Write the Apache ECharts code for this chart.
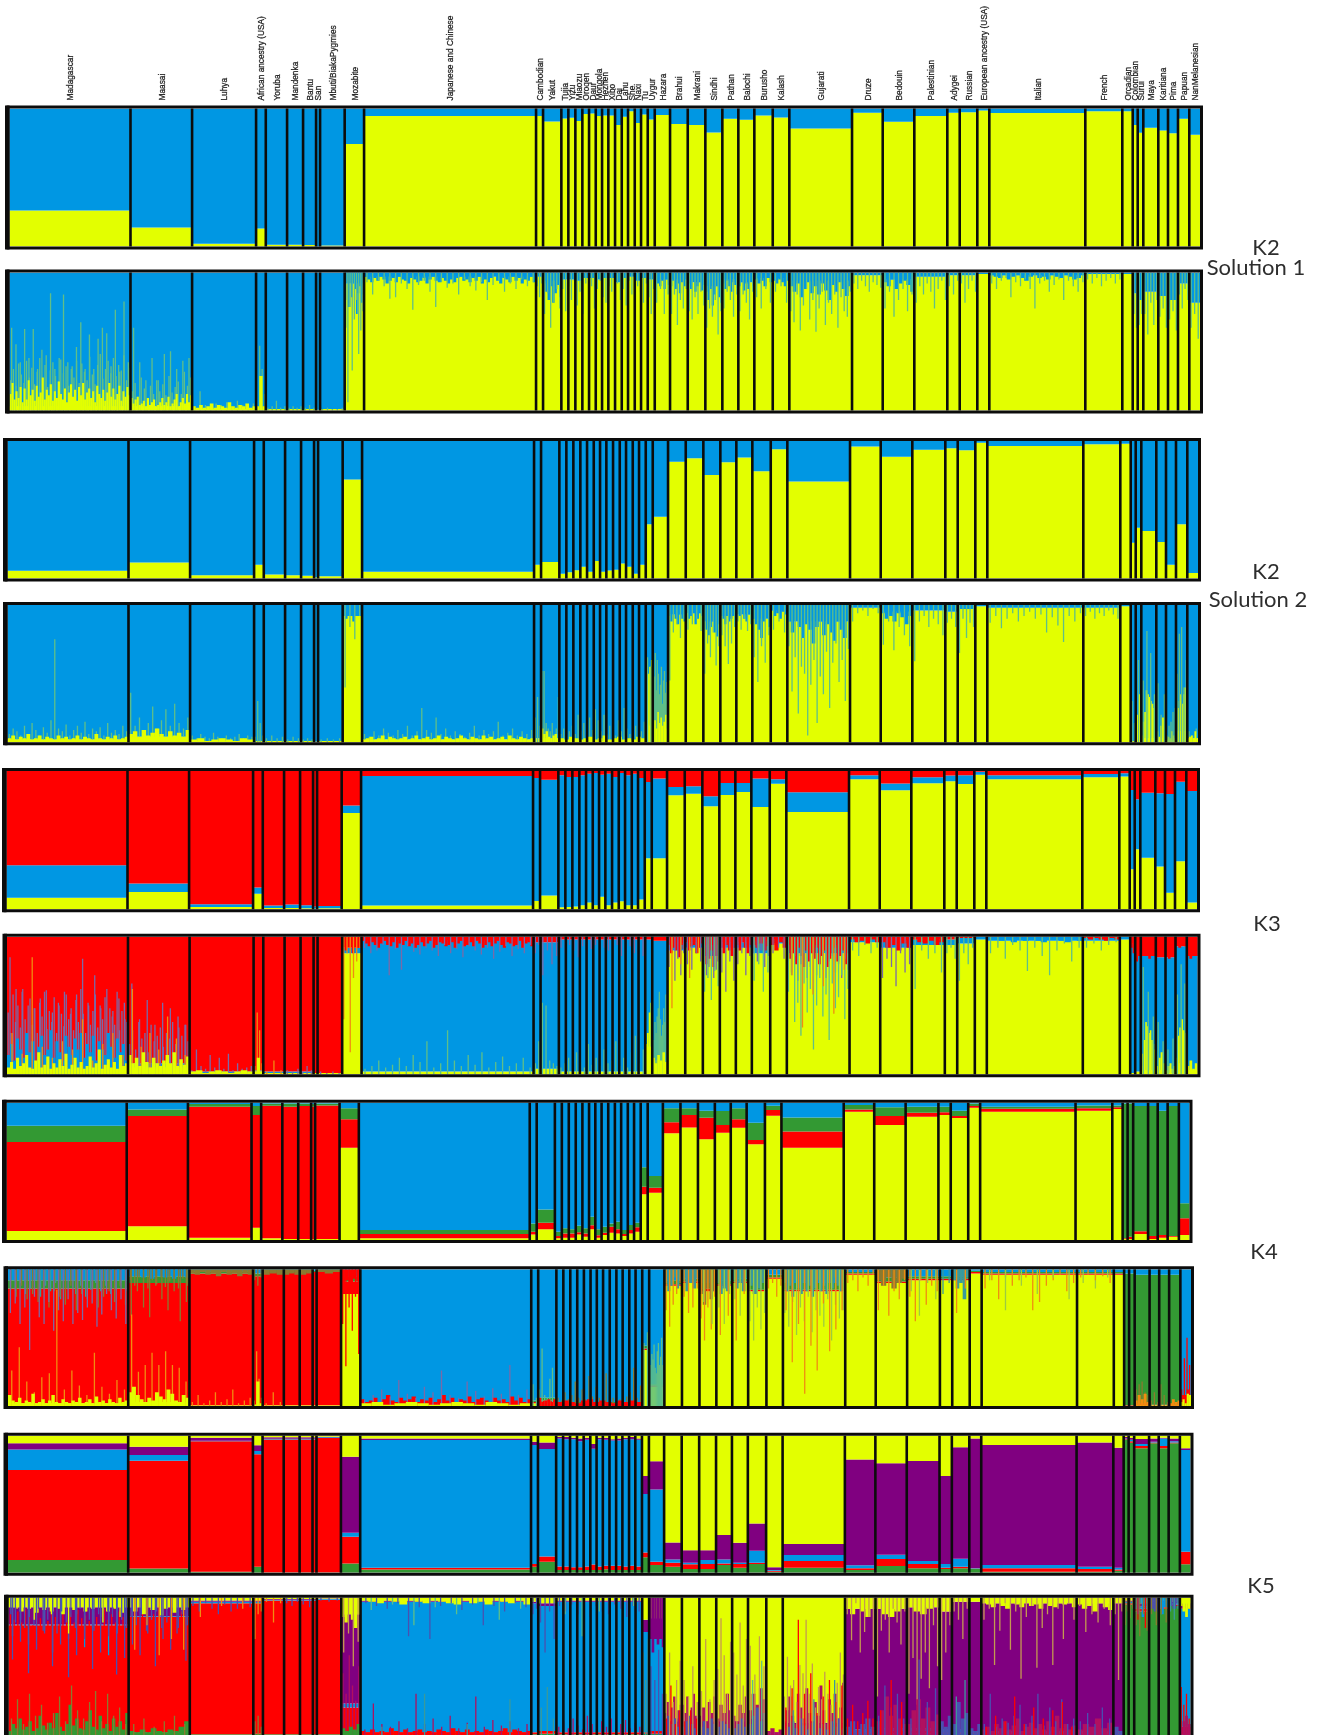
<!DOCTYPE html>
<html><head><meta charset="utf-8">
<style>html,body{margin:0;padding:0;background:#fff}#c{width:1327px;height:1735px}</style>
<script src="https://cdn.jsdelivr.net/npm/echarts@6/dist/echarts.min.js"></script>
</head><body><div id="c"></div>
<script>
const populations=['Madagascar','Maasai','Luhya','African ancestry (USA)','Yoruba','Mandenka','Bantu','San','Mbuti/BiakaPygmies','Mozabite','Japanese and Chinese','Cambodian','Yakut','Tujia','Yizu','Miaozu','Oroqen','Daur','Mongola','Hezhen','Xibo','Dai','Lahu','She','Naxi','Tu','Uygur','Hazara','Brahui','Makrani','Sindhi','Pathan','Balochi','Burusho','Kalash','Gujarati','Druze','Bedouin','Palestinian','Adygei','Russian','European ancestry (USA)','Italian','French','Orcadian','Colombian','Surui','Maya','Karitiana','Pima','Papuan','NanMelanesian'];
const sampleCounts=[121,61.6,64,9.7,21.3,16,13,4,24.6,19.4,172,7,18.3,7,7,7,6.7,6.7,6.3,6.3,6.7,6.7,6.3,6.7,6.3,6.7,7,15.3,17.7,17.6,17,16,16,18.4,16.6,62.7,30.7,31.6,33,12.4,17.6,12,96,37,10.4,5,5.6,15,9.7,10,11.3,10.7];
const colors={Y:'#e3ff00',B:'#0097e3',R:'#ff0000',G:'#339933',P:'#800080',M:'#5fbf88',V:'#7a6aa8',O:'#f08c10',L:'#9ccc40',T:'#8a7a30',D:'#3a9a9a',W:'#c49a50',Q:'#b01060',N:'#4a50b0'};

// population means: cumulative tops in percent, bottom to top
const k2s1Yellow=[26,13.7,2,13,1.2,1.2,1,0,.7,74.2,94.5,94.5,90.6,92.8,93.3,91,96,96.4,94.5,95,95,88,94,98,89.5,95.7,92,95.2,88.7,88,82.6,92.5,91.8,95,93.5,85.5,97,90.4,94.5,97,97.2,98.5,96.8,98,98,88,82.5,86,84,82,92.5,81];
const k2s2Yellow=[5.6,11.7,2.4,10,3,2.4,2,1,1.7,72,5,10,12,3.4,4.6,6,8.5,5,12.8,5,5.8,6.3,11,8.5,3.4,10,39.5,45,85,87.5,75.3,84.5,88,78,94,70.5,96,88.6,93.7,94.7,93.2,98.8,96.4,97.6,98,26,37,34.6,26.6,10,39.5,4];
const k3Yellow=[8.4,12.5,1.7,11.3,1,1,.7,.5,.7,69.6,2.7,6,10,1.5,1.7,2,3,5,3,9,3,5,5.8,3,3,7,37,37,82.5,83.6,74.5,82.6,84.8,74,90.8,70.4,94,86,91.2,92.5,90.6,97.3,94,95.4,96,29,43.4,37.3,31,12,34.7,5];
const k3Blue=[31.8,18.6,3.6,15.7,2.7,3.4,3,2,2.4,75,96.3,95,93.7,97,95.7,95.7,97,98,98.5,97.3,98,95.7,98.5,97,98,95,92,94.5,88.5,89,81.7,91.3,91.3,94.5,94,84.6,97,91,95.5,96.8,97,99.5,97,97.8,98.3,86.3,79.5,84.3,84,83.4,92.3,85.5];
const k4Yellow=[6.5,10,1.7,9,1.2,.8,.8,.5,.8,67.2,1.2,4,7.8,1.2,1.7,1.7,4,2.4,7.8,1.7,3.6,5.3,4.8,3,4.8,6,33.3,34.5,77.7,82,73.3,78.2,81.8,69.7,90.5,67.2,93.4,83.7,89.8,91,88.8,96.4,93.4,94.2,95.4,.7,.7,4.4,.7,1.7,2.4,3.6];
const k4Red=[71.4,90.3,97,91,97.8,97,97.6,97,98,87.9,4.4,6,12.6,3,4.8,4.8,5.6,4.8,10.7,3.4,5.3,9.7,7.8,4.4,7.3,9.2,38.8,38.1,85.7,91,89,83.7,87.9,72.8,94.7,79.1,95.1,90.3,92.7,93,90.3,97.6,95.6,95.9,96.6,1.2,2.4,6.3,3,3.6,3,15.8];
const k4Green=[83.3,95.1,99,97.6,99.5,99.5,99.5,99,99.5,95.9,7.3,12,22.3,6,8.5,7.8,10.4,8.5,17,7.8,9.7,12,13.3,7.3,11,12.6,52.9,46.6,95.9,95.9,94.2,94,95.9,85.4,97.8,89.3,98.3,96.6,97,97,94.2,99.5,97,98,98,99.5,99.5,97.6,97.6,94.2,97.6,26.7];
const k5Green=[9.2,3,.7,4.4,.2,.2,.2,.2,.2,6.8,2.4,4.4,8,2,2,2,2,2,2,2,2.5,2,2,2,2,2,11.2,5.6,4.4,2.7,2.7,5.6,3.6,6.3,.7,3.6,2,4.9,3.2,2.7,3.2,2.7,.7,.7,1.5,96.8,94.9,90.8,94.4,90.8,94.4,6.1];
const k5Red=[74.9,81.8,96,86.4,97.3,97.3,97.3,97.3,98.3,26.3,3.6,6.3,11.9,4.5,4.5,4,4,4.5,6,4.5,5,5,5,4.5,5,4.5,14.8,8,7.3,6.1,6.3,6.8,6.3,7.3,1.5,8.5,3.2,10,6.3,3.6,4.4,3,3.2,2.7,2.4,97.5,96,92.5,95,92.5,95,15.3];
const k5Blue=[90,85.9,96.4,88.8,97.8,97.8,97.8,97.8,98.8,29.2,96.8,93.2,90.3,98,97.5,97.5,96,97,90.5,97.5,97,96.5,96.5,97.5,97.5,97,57.4,60.8,9.7,7.3,9.2,9.7,7.3,16,2,12.9,5.4,13.1,8.5,6.3,10.2,3.4,5.6,4.4,3.6,98,97,93.9,95.6,98,96,89.5];
const k5Purple=[94.4,92,98.5,93,98.8,98.8,98.8,98.8,99.3,84.7,98,95.6,95.1,99,99,98.5,98,98.5,94,98.5,98.5,97.5,98,98.5,99,98,70.6,81.3,22.1,16.3,16.3,27.5,21.9,36,3.9,20.9,82.7,79.8,81.5,70.6,91.5,98,93.2,95.1,91.2,99,98.5,97.6,98,98.5,98,90.8];

// individual-level panels: solid level of each population, read at its calm columns
const k2s1IndYellow=[3,3,1,1,1,1,1,.5,1,92,97,97,94,95,95,94,96,96,95,96,96,93,96,97,94,96,95,95,95,93,90,95,93,96,96,94,98,95,97,98,98,99,98,99,99,85,80,86,83,80,92,78];
const k2s2IndYellow=[2,4,1,1,1,1,1,.5,1,92,2,3,3,1,1,1,1,1,1,1,1,1,1,1,1,1,12,14,93,94,88,92,93,90,96,88,98,95,96,95,97,99,98,98,99,1,1,3,3,1,8,3];
const k3IndYellow=[3,5,1,2,1,1,1,1,1,88,2,4,4,2,2,2,2,2,2,2,2,2,2,2,2,2,20,10,90,92,86,92,92,88,95,88,96,92,94,94,95,98,97,97,98,1,2,3,3,1,8,3];
const k3IndBlue=[5,8,2,3,2,2,2,1,1,92,97,96,96,98,98,98,98,98,98,98,98,98,98,98,98,98,98,97,95,96,94,96,96,97,98,94,99,97,98,98,99,100,99,99.5,100,95,90,86,85,85,93,86];
const k4IndYellow=[2,3,.5,1,.5,.5,.5,.5,.5,82,1,2,3,1,1,1,1,1,1,1,1,1,1,1,1,1,41,14,88,90,84,88,90,84,93,84,96,90,92,92,92,97,96,96,96,.2,.2,1,.5,.5,.5,3];
const k4IndRed=[86,90,97,95,98,98,98,98,99,91,2,3,4,2,2,2,2,2,2,2,2,2,2,2,2,2,42,15,89,91,86,89,91,85,94,85,97,91,93,93,93,98,97,97,97,.5,.5,2,1,1,1,8];
const k4IndGreen=[92,95,98.5,97,99.5,99.5,99.5,99,99.5,95,3,4,6,3,3,3,3,3,3,3,3,3,3,3,3,3,44,16,92,93,90,92,93,90,96,90,98,94,95,95,95,99,98,98,98,97,97,96,96,96,96,8];
const k5IndGreen=[3,2,.5,1,.5,.5,.5,.5,.5,3,.5,.5,1,.5,.5,.5,.5,.5,.5,.5,.5,.5,.5,.5,.5,.5,1,1,1,1,1,1,1,1,.5,1,1,1,1,1,1,1,1,1,1,95,95,90,94,92,94,.5];
const k5IndRed=[80,86,96,96,98,98,98,98,98.5,20,2,2,3,2,2,2,2,2,2,2,2,2,2,2,2,2,2,3,3,3,3,3,3,3,1,3,2,3,3,2,2,2,2,2,2,96,96,92,95,93,95,6];
const k5IndBlue=[80.5,86.5,97,97,98.5,98.5,98.5,98.5,99,23,97,96,94,97,97,97,97,97,97,97,97,97,97,97,97,97,75,70,5,5,5,5,5,6,1.5,5,4,5,5,4,4,3,3,3,3,97,97,93.5,96,97,96,92];
const k5IndPurple=[93,93,98,98,99,99,99,99,99.5,88,98,97,96,98,98,98,98,98,98,98,98,98,98,98,98,98,84,85,10,10,10,10,10,12,2,9,92,92,93,90,97,97,96,96,96,98,98,96,97,98,97,96];

const k2s1Spikes=[
['Madagascar','upThin','M',[22,30,18,34,26,20,36,24,31,19,28,38,22,33,17,29,35,25,21,37,27,32,18,30,24,36,20,34,28,22,39,26,19,33,41,23,30,36,27,38,25,33,29,40,22,31]],
['Madagascar','upThin','M',[60,48,35,59,38,59,30,44,40,85,30,38,84,35,32,46,64,30,55,30,52,60,56,32,73,28,79,35]],
['Madagascar','up','Y',[12,20,8,14,9,17,6,16,8,22,11,15,7,18,10,13,24,8,15,11,19,7,14,9,21,12,8,16,6,13,19,10,15,7,17,11,20,8,13,16,9,14,6,18,12,9,15,7,13,20,10,16,8,12,18,7,14,10,17,11]],
['Maasai','upThin','M',[14,20,10,24,16,9,18,12,22,14,19,11,25,13,17,21,12,28,18,24]],
['Maasai','upThin','M',[60,35,22,38,22,41,43,30,36,38]],
['Maasai','up','Y',[9,5,8,10,4,5,7,3,9,4,6,8,3,4,6,9,4,6,10,3,5,8,12,3,6,9,5,12,6,11]],
['Luhya','upThin','M',[3,14,4,3,5,4,6,3,7,4,3,5]],
['Luhya','up','Y',[3,2,4,2,3,5,2,4,3,2,6,3,2,4,3,5,2,3]],
['African ancestry (USA)','upThin','M',[3,47,30,12]],['African ancestry (USA)','up','Y',[3,25,3]],
['Yoruba','upThin','M',[2,3,7,2,3]],['Mandenka','upThin','M',[2,3,2,3]],['Bantu','upThin','M',[2,4,2]],['Mbuti/BiakaPygmies','upThin','M',[1,2,1,1,2]],
['Mozabite','down','B',[80,93,75,96,82,92,88,70,85,90,78,84]],['Mozabite','downThin','M',[60,6,75,29,66,80,41,58,72]],
['Japanese and Chinese','down','B',[97,95,93,96,94,97,95,92,94,96,93,97,95,94,92,96,95,93,94,96,92,95,97,94,93,96,94,92,95,93,96,97,94,95,93,96,94,97,92,95,93,96,98,94,92,96,95,93,97,94,96,92,95,94,97,93]],
['Japanese and Chinese','downThin','M',[93,84,94,90,81,82,92,88,73,91,94,86,75,93,89,92,84,95,90,87,93,80,91,94,86,92,88,95,90,93]],
['Cambodian','downThin','M',[90,82,92]],['Yakut','down','B',[92,86,80,90,78,85,91,82]],['Yakut','downThin','M',[70,85,60,78,88,74]],
['Tujia:Tu','downThin','M',[88,72,90,80,94,76,86,70,92,84,90,74,88,94,82,78,90,86,72,92,80,88,76,94,84,70,90,86,78,92]],
['Uygur','downThin','M',[82,70,88]],['Hazara','down','B',[96,92,90,94,88,95,91]],['Hazara','downThin','M',[78,88,70,84]],
['Brahui','down','B',[90,94,88,92,85,93,90,95]],['Brahui','downThin','M',[70,84,62,80,74,88]],
['Makrani','down','B',[92,88,94,86,90,93,87,91]],['Makrani','downThin','M',[72,66,82,70,86,76]],
['Sindhi','down','B',[86,80,88,76,84,90,82,78]],['Sindhi','downThin','M',[60,74,68,80,55,72]],
['Pathan','down','B',[92,88,94,90,86,93,91,89]],['Pathan','downThin','M',[74,86,80,68,84]],
['Balochi','down','B',[90,93,87,92,88,94,90]],['Balochi','downThin','M',[72,84,78,66,86]],
['Burusho','down','B',[95,92,94,90,96,93]],['Burusho','downThin','M',[82,74,88,78]],
['Kalash','down','B',[94,92,95,93,90,94]],['Kalash','downThin','M',[86,90,78]],
['Gujarati','down','B',[90,86,92,82,88,93,85,90,84,92,87,80,91,86,93,88,83,90]],
['Gujarati','downThin','M',[72,64,84,58,76,88,66,80,57,74,86,62,78,70,84,60,82,72,68,86]],
['Druze','downThin','M',[92,88,94,90,86,93,91,89]],['Bedouin','down','B',[93,90,95,88,92,94,91,86]],['Bedouin','downThin','M',[74,86,68,80,88,72,84]],
['Palestinian','downThin','M',[78,90,84,92,86,74,88,94,80]],['Adygei','downThin','M',[90,84,94]],['Russian','downThin','M',[92,78,88,94,86]],
['Italian','down','B',[98,97,96,98,95,97,98,96,94,97,98,96,97,95,98,97,96,98,97,95,96,98]],
['Italian','downThin','M',[92,88,94,96,82,93,90,95,88,74,92,94,86,91,95,80,94,90,86,93]],
['French','downThin','M',[95,92,96,90,94,96,92,95]],
['Colombian','downThin','M',[70,60]],['Surui','downThin','M',[62,70]],
['Maya','downThin','M',[70,55,78,62,80]],['Karitiana','downThin','M',[68,74,60]],['Pima','downThin','M',[66,72,58]],['Papuan','downThin','M',[84,74,88,80]],['NanMelanesian','downThin','M',[60,70,52]]
];

const k2s2Spikes=[
['Madagascar','upThin','M',[6,10,8,5,12,6,14,9,5,11,7,16,75,10,8,13,5,9,12,7,15,6,10,8,11,5,14,7,9,6,12,8]],
['Madagascar','up','Y',[3,5,2,4,3,6,2,3,5,2,4,3,2,5,3,4,2,3,5,2,4,3,2,6,3,2,4,3,5,2,3,4]],
['Maasai','upThin','M',[36,12,18,9,14,26,10,16,24,12,28,14,10,18]],['Maasai','up','Y',[6,8,4,9,5,7,10,6,4,8,5,7,4,9]],
['Luhya','upThin','M',[5,3,6,4,3,7,4,3,5,3,4,6,3,5,4]],['Luhya','up','Y',[2,3,1,2,3,2,1,3,2]],
['African ancestry (USA)','upThin','M',[4,30,14,5]],['Yoruba','upThin','M',[3,5,3,4]],['Mandenka','upThin','M',[2,4,3]],['Bantu','upThin','M',[2,3,2]],['Mbuti/BiakaPygmies','upThin','M',[2,3,2,3]],
['Mozabite','down','B',[96,90,94,97,88,95,92,96]],['Mozabite','downThin','M',[40,84,75,92]],
['Japanese and Chinese','upThin','M',[6,4,8,5,10,7,5,9,6,12,5,8,25,9,7,18,6,10,5,8,6,4,7,12,5,9,6,8,15,5,7,10,5,8,6,9]],
['Japanese and Chinese','up','Y',[2,3,4,2,3,5,2,4,3,2,3,4,2,3,5,2,3,4,2,3,5,2,4,3,2,3,5,3,2,4,3,2,5,3,4,2,3,4,2,5,3,2,4,3,2,3]],
['Cambodian','upThin','M',[18,33,12]],['Yakut','upThin','M',[52,52,14,10,8,14,6,10,33]],['Yakut','up','Y',[10,6,8,4,3,5,6,3]],
['Tujia:Tu','upThin','M',[6,10,5,8,12,6,20,8,14,6,18,9,24,16,8,20,6,12,10,5,16,8,25,10,6,39,12,22,8,15]],
['Tujia:Tu','up','Y',[3,2,4,3,2,3,4,2,3,5,2,3,4,2,3,2,4,3]],
['Uygur','up','Y',[38,50,55,60]],['Uygur','upThin','M',[62,55]],
['Hazara','upThin','M',[30,48,65,38,60,50,35,42,55,28,45,52,36,44,58]],['Hazara','up','Y',[12,16,10,22,14,18,12,15,20,10]],
['Brahui','down','B',[92,88,94,90,86,93,90,88]],['Brahui','downThin','M',[45,80,86,76,90]],
['Makrani','down','B',[96,90,92,94,86,90,94,92]],['Makrani','downThin','M',[82,86,90,81]],
['Sindhi','down','B',[90,82,78,84,88,80,77,86]],['Sindhi','downThin','M',[50,72,62,80,56,70]],
['Pathan','down','B',[94,90,86,92,88,90,94,84]],['Pathan','downThin','M',[78,70,57,72,84]],
['Balochi','down','B',[96,92,94,90,88,93,95]],['Balochi','downThin','M',[88,82,90,81,86]],
['Burusho','down','B',[90,86,82,76,88,92,84]],['Burusho','downThin','M',[62,44,70,58,78]],
['Kalash','down','B',[96,92,94,90,95,93]],['Kalash','downThin','M',[82,88,80]],
['Gujarati','down','B',[88,80,90,84,76,86,82,72,84,88,78,86,80,74,88,82,76,90]],
['Gujarati','downThin','M',[70,37,62,21,55,50,5,42,60,14,48,35,66,25,58,72,44,60,30,68]],
['Druze','downThin','M',[88,94,96,92,97,94]],['Bedouin','down','B',[94,90,92,88,94,91,86,92]],['Bedouin','downThin','M',[71,88,67,84,78,70]],
['Palestinian','downThin','M',[59,88,92,84,90,86,78]],['Adygei','downThin','M',[87,90,84]],['Russian','downThin','M',[65,90,76,87,84]],
['Italian','downThin','M',[87,92,83,90,94,88,92,95,90,93,80,91,85,73,92,88,94]],['French','downThin','M',[92,95,90,94,92,96,93,90]],
['Colombian','upThin','M',[30,14]],['Surui','up','Y',[20,35]],['Surui','upThin','M',[60]],
['Maya','up','Y',[5,15,22,38,35,33,30,28,25,20]],['Maya','upThin','M',[45,81,65,35]],['Karitiana','up','Y',[8,4,12,18,6]],['Karitiana','upThin','M',[43,20,35]],
['Pima','up','Y',[2,4,3,8,5,3]],['Pima','upThin','M',[5,12,15,22,25]],['Papuan','up','Y',[8,25,30,35,28,35,40,30]],['Papuan','upThin','M',[50,79,84,40,60]],['NanMelanesian','upThin','M',[8,5,10]],['NanMelanesian','up','Y',[3,4,5,3,8,3]]
];

const k3Spikes=[
['Madagascar','upThin','V',[45,30,58,38,50,34,62,40,28,55,36,48,30,52,42,60,33,46,38,56,30,50,44,35,58,40,48,32,54,38,62,44,30,52,36,46,58,34,50,40,56,30,48,42,36,60,32,46,52,38]],
['Madagascar','upThin','V',[85,62,60,50,48,55,61,45,52,60,44,58,84,50,72,48,62,46,55,40]],
['Madagascar','up','B',[14,22,10,26,18,12,30,16,24,9,20,28,14,18,32,12,24,16,10,28,20,14,26,18,30,12,22,16,28,10,24,18,14,30,20,12,26,16,22,10]],
['Madagascar','upThin','O',[30,15,85,20,12,24,18,40,10,22,30,14]],
['Madagascar','up','Y',[5,9,4,12,6,8,14,5,4,10,16,5,7,13,4,8,5,11,6,15,4,7,12,5,9,4,6,13,5,8,18,4,7,11,5,9,4,14,6,8]],
['Maasai','upThin','V',[22,32,18,38,26,30,16,36,24,28,34,20,30,26,38,22,34,28,36,24]],['Maasai','upThin','V',[66,40,54,36,52,48,42,36]],
['Maasai','upThin','O',[62,20,30,18,42,26,14]],['Maasai','up','Y',[14,8,12,6,16,9,5,12,8,6,10,14,8,16,6,11,7,13]],
['Luhya','upThin','V',[3,18,6,4,14,5,12,4,15,3,8,4,5,6]],['Luhya','up','Y',[2,3,1,2,3,2,1,2,3,2]],
['African ancestry (USA)','upThin','O',[6,45,32,8]],['African ancestry (USA)','up','Y',[2,12,2]],['Yoruba','upThin','O',[2,10,3]],['Mandenka','upThin','V',[3,2,4]],['Bantu','upThin','V',[2,6,3]],['Mbuti/BiakaPygmies','upThin','V',[2,1,2,1]],
['Mozabite','down','R',[95,90,93,97,88,94,92,96]],['Mozabite','downThin','O',[40,88,16,70,82,92]],
['Japanese and Chinese','down','R',[97,95,93,96,94,92,95,97,94,93,96,92,95,94,97,93,95,92,94,96,93,95,97,92,94,96,95,93,94,96,92,95,97,93,94,96,93,97,95,92,94,96,93,95,97,94,92,96,95,93,94,97,92,95,96,93]],
['Japanese and Chinese','downThin','V',[92,88,90,94,72,91,76,93,89,87,92,90,86,94,88,91,85,93,90,87,92,84,89,93,86,91,88,94]],
['Japanese and Chinese','upThin','M',[4,6,10,5,7,12,6,14,9,24,5,8,32,10,6,14,7,16,5,9,13,6,8,12,5]],
['Cambodian','downThin','V',[88,94]],['Cambodian','upThin','M',[8,24]],['Yakut','downThin','V',[72,90,80,86]],['Yakut','upThin','M',[52,50,10,8,6]],
['Tujia:Tu','downThin','V',[92,88,94,90,85,93,88,91,94,86,92,90,88,94,86,90,93,88,92,86]],
['Tujia:Tu','upThin','M',[5,8,12,6,16,9,5,22,7,12,6,18,8,10,24,6,12,5,16,28,8,18]],
['Uygur','up','Y',[22,30,45,52]],['Hazara','upThin','M',[16,25,38,30,42,48,60,40,28,36,48,38,58,45]],['Hazara','up','Y',[12,8,14,10,16,9]],
['Brahui','down','R',[94,88,92,90,85,94,91]],['Brahui','downThin','V',[78,90,68,84,72,88]],['Brahui','downThin','O',[48,80]],
['Makrani','down','R',[96,90,93,94,88,92,95]],['Makrani','downThin','V',[80,76,88,82]],['Makrani','downThin','O',[70,88]],
['Sindhi','down','R',[88,80,84,90,78,86,82]],['Sindhi','downThin','V',[80,72,78,84,70,76,82]],['Sindhi','downThin','M',[60,70,54,75,64]],
['Pathan','down','R',[92,88,94,90,86,92]],['Pathan','downThin','V',[74,60,82,68]],
['Balochi','down','R',[94,90,96,92,88,94]],['Balochi','downThin','V',[80,88,72,86]],
['Burusho','down','R',[94,92,95,90,93]],['Burusho','downThin','V',[88,82,90,78,86]],['Burusho','downThin','M',[68,80,60,74]],
['Kalash','down','R',[94,90,96,92]],['Kalash','downThin','V',[88,92,84]],
['Gujarati','down','R',[90,84,88,80,92,86,78,90,82,88,84,92,80,86,90,78,84,88,92,82,86,90,80,88]],
['Gujarati','downThin','V',[82,74,86,68,80,88,70,78,84,72,88,76,70,82,86,74,80,70,84,76]],
['Gujarati','downThin','M',[60,72,38,52,28,66,45,62,18,50,70,42,58,25,66,48,56,72,40,62]],['Gujarati','downThin','O',[72,34,58,64,44,76]],
['Druze','down','R',[98,96,97,95,98,96]],['Druze','downThin','M',[90,86,94,88,92]],
['Bedouin','down','R',[96,92,94,90,95,92]],['Bedouin','downThin','V',[70,84,78,64,88,74,80]],
['Palestinian','down','R',[98,96,95,97,94,96]],['Palestinian','downThin','M',[62,90,84,88,74]],['Adygei','downThin','M',[88,92,84]],['Russian','downThin','M',[68,88,80,92]],
['Italian','down','B',[99,98,97,98,96,99,97,98,97,96,98,99,97,96,98,97]],['Italian','downThin','M',[88,92,84,94,90,75,92,86,72,90,95,82,92]],
['French','down','R',[99,98,99,98,97,99,98]],['French','downThin','M',[92,95,90,94,96]],
['Colombian','down','R',[92,88]],['Surui','down','R',[82,86]],
['Maya','down','R',[92,86,90,84,88,86]],['Maya','up','Y',[6,15,25,38,35,30,32,25,22,18]],['Maya','upThin','M',[78,60,42]],
['Karitiana','down','R',[90,86,92,88]],['Karitiana','up','Y',[6,12,16,8]],['Karitiana','upThin','M',[38,24]],
['Pima','down','R',[90,84,88,86]],['Pima','up','Y',[3,6,8,4,6]],['Pima','upThin','M',[18,26]],
['Papuan','down','R',[96,92,94,93]],['Papuan','up','Y',[12,28,34,40,32,30]],['Papuan','upThin','M',[58,80,66]],
['NanMelanesian','down','R',[88,84,90,86]],['NanMelanesian','up','Y',[6,10,4,8]]
];

const k4Spikes=[
['Madagascar','down','B',[96,93,97,94,92,96,94,97,93,95,92,96,97,93,95,94,92,97,95,93,96,92,94,97,93,96,94,92,95,97]],
['Madagascar','downThin','D',[88,84,90,82,86,92,80,88,84,90,78,86,92,82,88,80,85,90,84,88,82,86,90,84]],
['Madagascar','downThin','T',[85,80,88,78,82,76,86,72,84,80,74,88,70,82,78,86,72,80,84,76,88,74]],
['Madagascar','downThin','V',[68,75,60,72,41,80,65,60,76,55,70,62,78,60,68,63,72,75,58,67,82,70,64,78,60]],
['Madagascar','upThin','O',[26,43,18,10,21,24,85,12,26,15,8,39,14,9,19,12]],
['Madagascar','up','Y',[8,4,3,6,2,4,3,9,2,3,5,2,4,8,3,2,5,3,2,4,3,6,2,3,5,2,7,3,4,2,5,3,2,6,3,4]],
['Maasai','down','B',[97,95,96,94,97,93,96,95,94,96,93,97,95,94]],['Maasai','downThin','T',[92,88,94,90,86,92,89,94,87,91,90,86,93,88]],
['Maasai','downThin','T',[66,84,72,65,88,78,70,84,62,76]],
['Maasai','upThin','O',[67,25,30,39,30,40,30,28,18]],['Maasai','up','Y',[10,14,8,5,3,6,4,10,7,5,12,9,4,3,8,6]],
['Luhya','down','T',[97,96,98,96,97,95,98,96,97,95,97,96]],['Luhya','upThin','O',[3,8,2,4,10,3,5,12,2,4,6]],
['African ancestry (USA)','downThin','T',[92,88,94]],['African ancestry (USA)','upThin','O',[4,40,20,6]],['African ancestry (USA)','up','Y',[1,18,2]],
['Yoruba','down','T',[96,97,96]],['Yoruba','upThin','O',[2,10,3]],['Mandenka','down','T',[96,97,96]],['Bantu','down','T',[96,97]],['Mbuti/BiakaPygmies','down','T',[98,97,98]],
['Mozabite','down','R',[90,92,88,93,91]],['Mozabite','downThin','R',[60,29,72,55,80,38]],
['Japanese and Chinese','up','R',[5,3,4,6,3,5,8,4,3,6,4,5,7,3,5,4,6,3,5,8,4,6,3,5,4,7,3,5,6,4,3,6,4,5,3,7,4,6,3,5]],
['Japanese and Chinese','upThin','V',[5,8,12,7,19,9,6,14,10,26,8,6,18,11,7,13,9,30,8,12]],
['Japanese and Chinese','up','Y',[2,3,1,2,3,2,1,2,3,2,1,3,2,1,2]],
['Cambodian','upThin','M',[16,6]],['Yakut','upThin','M',[12,42,8,6,20,28,6]],['Yakut','up','R',[6,3,4,5,3,5]],
['Tujia:Tu','upThin','T',[6,4,10,5,8,18,6,12,5,22,7,14,6,10,24,8,6,12,5,18,7,10,28,6,15]],['Tujia:Tu','up','R',[3,4,3,2,4,5,3,4,3,2,4,3,4,3]],
['Hazara','upThin','M',[22,30,38,34,45,28,24,40,46,30,36,50,30,58]],['Uygur','upThin','M',[46,54]],
['Brahui','down','D',[90,84,88,94,86,92]],['Brahui','downThin','O',[70,58,74,82,90]],
['Makrani','down','D',[92,84,90,86,94]],['Makrani','downThin','O',[80,68,72,86]],
['Sindhi','down','T',[82,74,86,78,84]],['Sindhi','downThin','O',[64,48,72,56,80]],['Sindhi','downThin','L',[76,60]],
['Pathan','down','D',[90,82,86,84,92]],['Pathan','downThin','L',[72,60,82]],['Pathan','downThin','O',[52,66]],
['Balochi','down','D',[92,86,90,84,94]],['Balochi','downThin','L',[78,66,84]],['Balochi','downThin','O',[48,82]],
['Burusho','down','D',[88,82,86,90]],['Burusho','downThin','L',[62,48,72,56,68]],
['Kalash','downThin','O',[86,90,80,88]],
['Gujarati','down','D',[90,84,88,80,92,86,82,90,84,88,80,86,92,84,88,82,90,86,94,88,84,90]],
['Gujarati','downThin','L',[68,58,76,52,72,62,80,54,70,66,58,78,48,74,64,70]],
['Gujarati','downThin','O',[70,32,60,9,44,26,75,40,56,70]],
['Druze','downThin','O',[90,92,84,94,88,96]],
['Bedouin','down','T',[92,88,94,86,90,93]],['Bedouin','downThin','O',[70,88,66,84,78,92]],
['Palestinian','downThin','L',[84,66,90,78]],['Palestinian','downThin','O',[80,62,92,74,88,84]],
['Adygei','downThin','D',[82,90]],['Russian','down','D',[92,86,90,78,94]],['Russian','downThin','O',[68,86]],
['Italian','downThin','O',[86,92,78,94,88,92,94,70,76,88,92,96,84,90]],['Italian','downThin','L',[92,70,88,82,94,78]],
['French','downThin','L',[90,86,94]],['French','downThin','O',[94,96,92,95,90]],
['Maya','upThin','T',[12,16,18,10,8]],['Maya','up','O',[4,8,5,9,3]],['Karitiana','upThin','T',[4,10,3]],['Pima','upThin','T',[16,8,3]],['Papuan','up','O',[2,5,3,4]],
['NanMelanesian','up','R',[4,6,5,12,6]],['NanMelanesian','upThin','R',[12,35,50,30]],['NanMelanesian','up','Y',[3,5,2,9,8]]
];

const k5Spikes=[
['Madagascar','upThin','R',[88,84,90,82,92,86,80,91,85,89,83,92,86,81,90,84,88,82,91,85,87,83,90,86,81,92,84,88,82,90,86,84]],
['Madagascar','down','Y',[96,93,95,90,94,92,96,89,94,91,95,90,96,92,88,94,95,91,93,96,90,94,92,95,93,96,90,94,92,95,89,96]],
['Madagascar','downThin','N',[88,82,90,78,86,80,92,76,84,88,74,90,82,86,78,92,80,84,76,88,82,90,86,74,84,78]],
['Madagascar','downThin','B',[72,84,66,90,76,60,82,70,88,64,78,86,58,74,82]],
['Madagascar','downThin','N',[55,68,45,62,74,50,66,42,58,70,48,60,72,44,56]],
['Madagascar','downThin','Y',[92,84,88,74,90,82,86]],
['Madagascar','up','G',[3,8,5,12,4,6,10,3,5,14,7,4,9,5,16,6,3,8,22,7,12,5,4,10,18,6,4,14,5,8,3,12,6,10,4,16]],
['Madagascar','upThin','T',[12,26,8,30,14,22,9,16,28,10,36,18,12,24,32,10,30,14,20,8]],
['Maasai','upThin','R',[90,86,92,84,88,91,85,89,83,90,87]],
['Maasai','down','Y',[94,90,96,88,93,91,95,87,92,96,89,94,91,95]],['Maasai','downThin','N',[86,80,88,76,84,90,78,82,86,74,88,80]],
['Maasai','downThin','N',[66,58,74,50,70,62,78,54]],['Maasai','downThin','O',[62,80,58,70,62]],['Maasai','up','G',[3,2,4,2,5,3,2,4,3,6,10]],['Maasai','upThin','T',[8,12,6,10,14,8]],
['Luhya','downThin','N',[94,90,96,92,88,95,90,92,96,93]],['Luhya','downThin','O',[86,94,92]],
['African ancestry (USA)','downThin','O',[70,88,90]],['African ancestry (USA)','upThin','T',[10,14,6]],
['Yoruba','downThin','O',[97,82,96]],['Mandenka','downThin','N',[96,94,97]],['Bantu','downThin','N',[95,93]],['Mbuti/BiakaPygmies','downThin','N',[98,97,98]],
['Mozabite','down','Y',[86,82,90,84,78,88]],['Mozabite','upThin','Q',[45,30,58,36,25,50]],['Mozabite','downThin','W',[60,74,50,68]],['Mozabite','up','G',[5,3,6,4,8]],
['Japanese and Chinese','down','Y',[98,97,96,98,97,95,98,97,96,98,97,96,95,98,96,97,95,98,97,96,98,95]],
['Japanese and Chinese','downThin','N',[96,94,92,96,72,93,70,94,96,91,95,80,94,90,96,93]],
['Japanese and Chinese','downThin','M',[91,95,80,93,88,96,84,92]],
['Japanese and Chinese','up','R',[3,2,4,2,3,2,5,3,2,4,2,3,4,2,3,2,4,3,2,5,3,2,4,2,3,2,4,3,2,3,5,2,4,3,2,3]],
['Japanese and Chinese','upThin','Q',[4,23,8,6,10,5,30,8,12,6,14,5,9,28,6,11,7,10,5,8]],['Japanese and Chinese','upThin','D',[6,30,8,26]],
['Cambodian','downThin','N',[88,92]],['Yakut','downThin','N',[82,60,90,70]],['Yakut','upThin','D',[20,35,12]],
['Tujia:Tu','downThin','N',[94,90,95,88,92,86,94,90,88,95,92,86,94,90]],['Tujia:Tu','downThin','M',[88,72,90,82,94]],['Tujia:Tu','upThin','Q',[6,10,5,12,7,4,14,8,5,10,6,12,4,8,11,5,9,6]],
['Uygur','upThin','D',[60,40,70]],['Hazara','down','P',[80,60,72,66,76,64]],['Hazara','upThin','N',[50,40,62,30]],
['Brahui','up','Q',[16,24,10,20,28,12,18,22]],['Brahui','up','N',[10,14,8,12,6,10]],['Brahui','upThin','W',[30,60,24,40,54]],['Brahui','upThin','R',[12,36,8,18]],
['Makrani','up','Q',[22,16,28,12,20,30,14,24]],['Makrani','up','N',[6,10,14,8,5,12]],['Makrani','upThin','W',[40,28,50,24]],['Makrani','upThin','R',[10,18,12]],
['Sindhi','up','Q',[14,20,10,24,16,28]],['Sindhi','up','N',[6,10,5,12,8]],['Sindhi','upThin','W',[32,70,26,40]],
['Pathan','up','Q',[12,22,16,30,18]],['Pathan','up','N',[6,10,8,5]],['Pathan','upThin','W',[48,85,58,30,68]],
['Balochi','up','Q',[14,10,22,16,28]],['Balochi','up','N',[5,8,12,6]],['Balochi','upThin','W',[60,44,82,36,70]],
['Burusho','up','Q',[18,30,22,34,26]],['Burusho','up','N',[8,14,20,10,16]],['Burusho','upThin','W',[65,44,72,50]],['Burusho','upThin','M',[40,54]],
['Kalash','up','Q',[3,5,2,4]],
['Gujarati','up','Q',[10,18,28,14,8,30,20,12,34,16,10,24,14,36,18,8,26,16,30,12,20,38]],
['Gujarati','up','N',[4,6,10,5,12,7,4,9,14,5,8,4,10,6,12,4]],
['Gujarati','upThin','W',[28,57,36,40,24,51,45,84,30,52,20,35,26,46,30,22,16,38,60,44]],['Gujarati','upThin','R',[20,34,84,30,45,16,28,40,24,36]],['Gujarati','upThin','D',[18,26,40]],
['Druze','down','Y',[92,88,95,90,86,93]],['Druze','downThin','W',[88,69,96,60,75,86,62]],['Druze','up','N',[6,10,4,8,12,6]],['Druze','upThin','R',[12,22,10,16,25,12]],
['Bedouin','down','Y',[92,88,86,90,94]],['Bedouin','downThin','W',[28,76,84,60,92,82,66,90]],['Bedouin','up','Q',[10,18,28,14,22,12,8]],['Bedouin','upThin','N',[14,36,20,30,12]],['Bedouin','upThin','R',[18,40,24]],
['Palestinian','down','Y',[93,90,88,92,94]],['Palestinian','downThin','W',[30,56,22,41,60,34,80,50]],['Palestinian','up','Q',[8,18,26,12,20,10,15]],['Palestinian','upThin','N',[12,55,24,34]],
['Adygei','downThin','W',[40,60,80]],['Adygei','up','N',[10,6,14]],['Russian','downThin','W',[90,84,70,92]],['Russian','up','N',[8,24,12,16]],['Russian','upThin','D',[28,40]],
['European ancestry (USA)','up','N',[5,3,8]],
['Italian','down','Y',[97,95,93,96,94,92,96,95,93,97,94,95,92,96,94,93,96,95,97,93]],
['Italian','downThin','W',[84,92,51,76,96,62,90,41,86,94,49,78,88,51,92,70,96,84]],
['Italian','up','Q',[4,6,3,8,5,10,4,7,12,3,6,9,5,8,4,10,6,14,5,8,4,7]],
['Italian','upThin','N',[8,30,6,12,9,14,22,8,14,30,7,20,10,26,8,12]],['Italian','upThin','R',[6,14,10,28,8,20,12,18,24,6]],
['French','down','Y',[95,92,94,90,96,93,91]],['French','downThin','W',[94,75,88,82,92,80]],['French','up','Q',[4,8,6,12,5,9]],['French','upThin','N',[10,16,8,20,12]],
['Orcadian','downThin','W',[88,40,90]],['Orcadian','up','N',[6,3]],
['Colombian','downThin','T',[80,90]],['Surui','downThin','T',[85,92]],
['Maya','down','B',[92,88,96,86,94,90]],['Maya','downThin','T',[80,72,88,76]],['Maya','downThin','R',[84,78]],
['Karitiana','down','N',[92,90]],['Karitiana','downThin','T',[88,80]],['Pima','down','B',[92,88,94,96]],['Pima','downThin','T',[88,82]],
['Papuan','down','N',[94,92,96]],['Papuan','downThin','D',[90,84,92]],
['NanMelanesian','down','Y',[94,90,86,92]],['NanMelanesian','upThin','R',[35,22,30,12]],['NanMelanesian','up','Q',[6,10,14,8]]
];

// panel table: stack bottom-to-top, cumulative arrays, top colour remainder, individual marks
const panels=[
{order:['Y','B'],tops:[k2s1Yellow],L:9.5,R:1200,t:108.5,b:246.5},
{order:['Y','B'],tops:[k2s1IndYellow],spikes:k2s1Spikes,L:9.5,R:1200,t:272.5,b:410.5},
{order:['Y','B'],tops:[k2s2Yellow],L:7.5,R:1198,t:441,b:578.5},
{order:['Y','B'],tops:[k2s2IndYellow],spikes:k2s2Spikes,L:7.5,R:1198,t:605,b:742.3},
{order:['Y','B','R'],tops:[k3Yellow,k3Blue],L:6.5,R:1197,t:771,b:909.3},
{order:['Y','B','R'],tops:[k3IndYellow,k3IndBlue],spikes:k3Spikes,L:7,R:1197.5,t:936.7,b:1074.3},
{order:['Y','R','G','B'],tops:[k4Yellow,k4Red,k4Green],L:6.5,R:1189.5,t:1102.7,b:1240},
{order:['Y','R','G','B'],tops:[k4IndYellow,k4IndRed,k4IndGreen],spikes:k4Spikes,L:8,R:1191,t:1269.3,b:1406},
{order:['G','R','B','P','Y'],tops:[k5Green,k5Red,k5Blue,k5Purple],L:8,R:1190.5,t:1435.7,b:1572.7},
{order:['G','R','B','P','Y'],tops:[k5IndGreen,k5IndRed,k5IndBlue,k5IndPurple],spikes:k5Spikes,L:8.5,R:1190.5,t:1597.7,b:1735}
];
const sideLabels=[
{text:'K2',x:1266,y:248},{text:'Solution 1',x:1256,y:268},
{text:'K2',x:1266,y:572},{text:'Solution 2',x:1258,y:600},
{text:'K3',x:1267,y:924},{text:'K4',x:1264,y:1252},{text:'K5',x:1261,y:1586}];

const edges=[0];sampleCounts.forEach(c=>edges.push(edges[edges.length-1]+c));
const total=edges[edges.length-1];
const popIndex=n=>populations.indexOf(n);
function rangeOf(name){const p=name.split(':');const i=popIndex(p[0]),j=popIndex(p[p.length-1]);return [edges[i],edges[j+1]];}
const THIN=1.3;
function panelRects(p){
  const out=[];
  populations.forEach((_,i)=>{
    let low=0;
    p.order.forEach((key,k)=>{
      const top=k<p.tops.length?p.tops[k][i]:100;
      out.push([edges[i],edges[i+1],low,top,colors[key]]);
      low=top;
    });
  });
  (p.spikes||[]).forEach(([name,kind,key,vals])=>{
    const [a,b]=rangeOf(name),step=(b-a)/vals.length;
    vals.forEach((v,n)=>{
      const thin=kind.endsWith('Thin'),c=a+(n+.5)*step,hw=thin?THIN/2:step/2+.05;
      const up=kind.startsWith('up');
      out.push([c-hw,c+hw,up?0:v,up?v:100,colors[key]]);
    });
  });
  return out;
}
const renderRect=(params,api)=>{
  const tl=api.coord([api.value(0),api.value(3)]),br=api.coord([api.value(1),api.value(2)]);
  return {type:'rect',shape:{x:tl[0],y:tl[1],width:br[0]-tl[0],height:br[1]-tl[1]},style:{fill:api.value(4)},silent:true};
};
const renderSeparator=(params,api)=>{
  const a=api.coord([api.value(0),0]),b=api.coord([api.value(0),100]);
  return {type:'rect',shape:{x:a[0]-1.3,y:b[1],width:2.6,height:a[1]-b[1]},style:{fill:'#0c0c0c'}};
};
const renderFrame=(params,api)=>{
  const a=api.coord([0,0]),b=api.coord([total,100]);
  return {type:'group',children:[
    {type:'rect',shape:{x:a[0]-1.5,y:b[1]-1.5,width:b[0]-a[0]+3,height:a[1]-b[1]+3},style:{fill:'none',stroke:'#0c0c0c',lineWidth:3}},
    {type:'rect',shape:{x:a[0]-4.5,y:b[1]-3,width:4.5,height:a[1]-b[1]+6},style:{fill:'#0c0c0c'}}]};
};
const grid=[],xAxis=[],yAxis=[],series=[];
panels.forEach((p,i)=>{
  grid.push({left:p.L,top:p.t,width:p.R-p.L,height:p.b-p.t,containLabel:false});
  xAxis.push({type:'value',gridIndex:i,min:0,max:total,show:false});
  yAxis.push({type:'value',gridIndex:i,min:0,max:100,show:false});
  series.push({type:'custom',xAxisIndex:i,yAxisIndex:i,renderItem:renderRect,data:panelRects(p),dimensions:['x0','x1','y0','y1',{name:'c',type:'ordinal'}],clip:true,animation:false,progressive:0,silent:true,z:2});
  series.push({type:'custom',xAxisIndex:i,yAxisIndex:i,renderItem:renderSeparator,data:edges.slice(1,-1).map(e=>[e]),clip:false,animation:false,silent:true,z:3});
  series.push({type:'custom',xAxisIndex:i,yAxisIndex:i,renderItem:renderFrame,data:[[0]],clip:false,animation:false,silent:true,z:4});
});
series.push({type:'scatter',xAxisIndex:0,yAxisIndex:0,symbolSize:0,clip:false,silent:true,animation:false,z:5,
  data:populations.map((n,i)=>({name:n,value:[(edges[i]+edges[i+1])/2+1,100]})),
  label:{show:true,formatter:'{b}',position:[0,-8],rotate:90,align:'left',verticalAlign:'middle',fontFamily:'Liberation Sans',fontSize:8.3,color:'#000',textBorderColor:'#000',textBorderWidth:.3}});
const chart=echarts.init(document.getElementById('c'),null,{renderer:'canvas'});
chart.setOption({backgroundColor:'#fff',animation:false,tooltip:{show:false},grid,xAxis,yAxis,series,
  graphic:sideLabels.map(s=>({type:'text',x:s.x,y:s.y,style:{text:s.text,font:'22px Lato',fill:'#2e2e2e',textAlign:'center',textVerticalAlign:'middle'}}))});
</script></body></html>
